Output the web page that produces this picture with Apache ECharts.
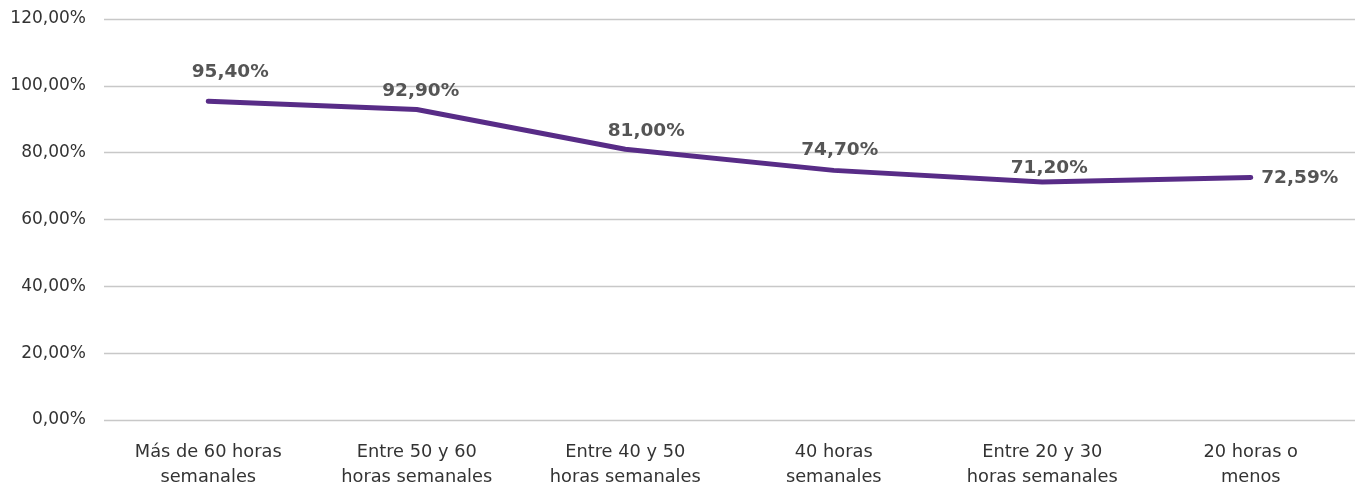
<!DOCTYPE html>
<html><head><meta charset="utf-8">
<script src="https://cdn.jsdelivr.net/npm/echarts@6/dist/echarts.min.js"></script>
<style>html,body{margin:0;padding:0;background:#fff}#c{width:1363px;height:493px}</style>
</head><body><div id="c"></div>
<script>
const categories = ['Más de 60 horas\nsemanales','Entre 50 y 60\nhoras semanales','Entre 40 y 50\nhoras semanales','40 horas\nsemanales','Entre 20 y 30\nhoras semanales','20 horas o\nmenos'];
const values = [95.40, 92.90, 81.00, 74.70, 71.20, 72.59];
const yTicks = [0, 20, 40, 60, 80, 100, 120];

const labelOffsets = [[22,-9],[4,2],[21,2],[6,0],[7,6],[0,1]];
const fmt = v => v.toFixed(2).replace('.', ',') + '%';

const chart = echarts.init(document.getElementById('c'));
chart.setOption({
  animation: false,
  grid: {left: 104, right: 8, top: 19, bottom: 73, containLabel: false},
  xAxis: {
    type: 'category', data: categories, boundaryGap: true,
    axisLine: {show: false}, axisTick: {show: false},
    axisLabel: {color: '#333333', fontFamily: 'DejaVu Sans', fontSize: 17.8, lineHeight: 25, margin: 20, interval: 0}
  },
  yAxis: {
    type: 'value', min: yTicks[0], max: yTicks[yTicks.length-1], interval: 20,
    axisLine: {show: false}, axisTick: {show: false},
    splitLine: {lineStyle: {color: '#C8C8C8', width: 1.3}},
    axisLabel: {color: '#333333', fontFamily: 'DejaVu Sans', fontSize: 17, margin: 18, formatter: v => fmt(v)}
  },
  series: [{
    type: 'line',
    data: values.map((v, i) => ({
      value: v,
      label: i === values.length - 1
        ? {position: 'right', distance: 10, offset: labelOffsets[i]}
        : {position: 'top', distance: 10, offset: labelOffsets[i]}
    })),
    symbol: 'circle', symbolSize: 1, showSymbol: true,
    itemStyle: {color: '#582C87'},
    lineStyle: {color: '#582C87', width: 5, cap: 'round', join: 'round'},
    label: {show: true, color: '#555555', fontFamily: 'DejaVu Sans', fontWeight: 'bold', fontSize: 18.5, formatter: p => fmt(p.value)}
  }]
});
</script></body></html>
